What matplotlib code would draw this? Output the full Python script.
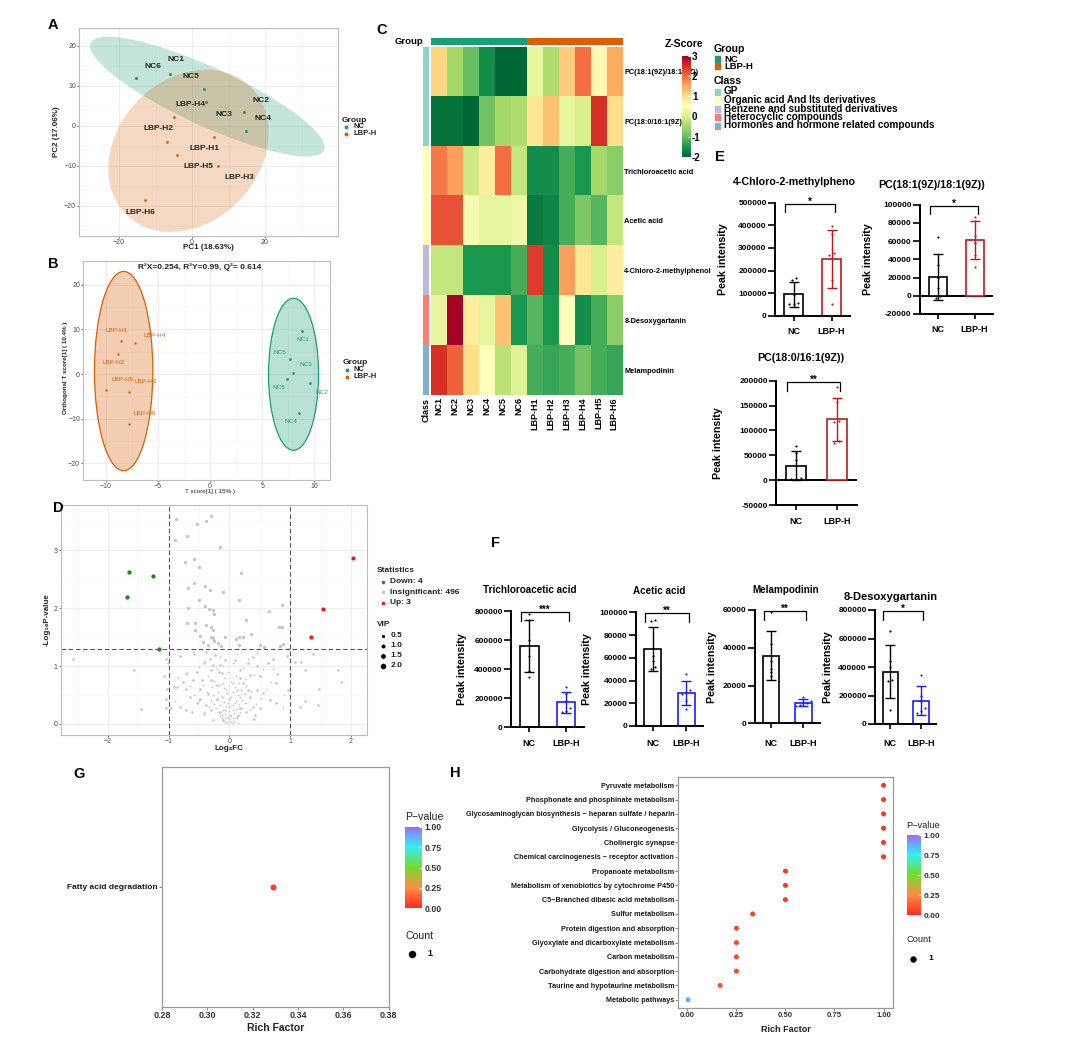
import numpy as np
import matplotlib
matplotlib.use('Agg')
import matplotlib.pyplot as plt
from matplotlib.patches import Ellipse, Rectangle
from matplotlib.colors import LinearSegmentedColormap, Normalize
from matplotlib.cm import ScalarMappable

plt.rcParams['font.family'] = ['Liberation Sans', 'DejaVu Sans']
plt.rcParams['axes.unicode_minus'] = True

# ======================= DATA =======================
group_names = ['NC', 'LBP-H']

# ---- A: PCA scores ----
pcaA_nc_labels = ['NC6', 'NC1', 'NC5', 'NC3', 'NC2', 'NC4']
pcaA_nc_x = [-15.4, -6.1, 3.3, 3.9, 14.2, 14.7]
pcaA_nc_y = [11.9, 13.0, 9.25, 6.1, 3.4, -1.2]
pcaA_lbp_labels = ['LBP-H4', 'LBP-H2', 'LBP-H1', 'LBP-H5', 'LBP-H3', 'LBP-H6']
pcaA_lbp_x = [-5.0, -6.9, 5.9, -4.0, 7.1, -12.9]
pcaA_lbp_y = [2.2, -3.9, -2.75, -7.2, -10.0, -18.6]
# confidence ellipses: centre x, centre y, semi-axis a, semi-axis b, angle (deg)
ellA_nc = [4.2, 7.35, 34.7, 7.4, -22.6]
ellA_lbp = [-1.0, -6.2, 23.5, 18.5, 35.0]

# ---- B: OPLS-DA scores ----
oplsB_nc_labels = ['NC1', 'NC5', 'NC3', 'NC6', 'NC2', 'NC4']
oplsB_nc_x = [8.78, 7.69, 7.92, 7.34, 9.55, 8.56]
oplsB_nc_y = [9.67, 3.27, 0.15, -1.1, -1.93, -8.8]
oplsB_lbp_labels = ['LBP-H1', 'LBP-H4', 'LBP-H2', 'LBP-H5', 'LBP-H3', 'LBP-H6']
oplsB_lbp_x = [-8.53, -7.24, -8.88, -9.97, -7.76, -7.79]
oplsB_lbp_y = [7.37, 7.0, 4.46, -3.64, -4.0, -11.2]
ellB_nc = [8.0, -0.05, 2.4, 17.0, 0.0]
ellB_lbp = [-8.3, 0.67, 2.8, 22.3, 0.0]
oplsB_stats = 'R\u00b2X=0.254, R\u00b2Y=0.99, Q\u00b2= 0.614'

# ---- C: heatmap (z-scores) ----
heat_samples = ['NC1', 'NC2', 'NC3', 'NC4', 'NC5', 'NC6',
                'LBP-H1', 'LBP-H2', 'LBP-H3', 'LBP-H4', 'LBP-H5', 'LBP-H6']
heat_metabolites = ['PC(18:1(9Z)/18:1(9Z))', 'PC(18:0/16:1(9Z))', 'Trichloroacetic acid',
                    'Acetic acid', '4-Chloro-2-methylphenol', '8-Desoxygartanin', 'Melampodinin']
heat_z = [
    [1.1, -0.5, -1.0, -1.6, -2.0, -2.0, 0.2, -0.4, 1.2, 2.0, 0.6, 1.5],
    [-1.9, -1.9, -2.0, -0.9, -0.5, -0.4, 0.9, 1.3, 0.2, 0.0, 2.5, 1.0],
    [1.9, 1.6, -0.1, 0.8, 2.0, -0.2, -1.6, -1.6, -1.2, -1.5, -0.5, -0.7],
    [2.2, 2.2, 0.4, 0.2, 0.2, 0.3, -1.8, -1.7, -1.2, -0.8, -1.1, -0.2],
    [-0.2, -0.2, -1.5, -1.5, -1.5, -1.2, 2.4, -1.6, 1.6, 0.9, 0.0, 0.8],
    [0.2, 3.0, 0.8, 0.2, 1.3, -1.5, -1.1, -1.5, 0.5, -1.6, -1.2, -0.7],
    [2.5, 2.1, 1.0, 0.5, -0.3, 0.1, -1.2, -1.3, -1.2, -0.9, -1.2, -1.3],
]
class_names = ['GP', 'Organic acid And Its derivatives', 'Benzene and substituted derivatives',
               'Heterocyclic compounds', 'Hormones and hormone related compounds']
heat_row_class = [0, 0, 1, 1, 2, 3, 4]

# ---- D: volcano ----
vol_down = [(-1.65, 2.63), (-1.26, 2.55), (-1.68, 2.19), (-1.16, 1.30)]
vol_up = [(2.04, 2.87), (1.54, 1.99), (1.34, 1.51)]
vol_counts = {'Down': 4, 'Insignificant': 496, 'Up': 3}
# insignificant metabolites grouped by VIP class
vol_ns_vip15 = [(-0.88, 3.53), (-0.38, 3.51), (-0.53, 3.45), (-0.31, 3.59), (-0.70, 3.25), (-0.90, 3.18),
    (-0.15, 3.06), (-0.74, 2.80), (-0.58, 2.84), (-0.51, 2.71), (0.19, 2.60), (-0.58, 2.43), (-0.68, 2.34),
    (-0.40, 2.39), (-0.32, 2.31), (-0.10, 2.28), (-0.50, 2.14), (0.15, 2.14), (-0.34, 1.99), (-0.27, 1.97),
    (-0.40, 2.03), (-0.69, 2.01), (-0.26, 1.90), (0.65, 1.95), (0.87, 2.06), (0.28, 1.79), (-0.70, 1.75),
    (-0.57, 1.75), (-0.38, 1.71), (0.82, 1.67), (0.86, 1.68), (-0.57, 1.62), (-0.31, 1.67), (-0.27, 1.62),
    (-0.48, 1.52), (0.35, 1.55), (-0.08, 1.51), (-0.31, 1.51), (-0.27, 1.49), (0.16, 1.51), (0.23, 1.51),
    (0.10, 1.46), (0.16, 1.37), (-0.36, 1.37), (-0.19, 1.39), (0.50, 1.37), (0.57, 1.33), (0.83, 1.34),
    (0.88, 1.38), (-0.26, 1.44), (-0.43, 1.41), (-0.14, 1.34)]
vol_ns_vip10 = [(-2.58, 1.12), (-1.58, 0.93), (-1.46, 0.26), (-1.04, 1.12), (-1.08, 0.82), (-1.03, 0.60),
    (-1.04, 0.43), (-1.04, 0.27), (-0.82, 1.17), (-0.58, 1.20), (-0.38, 1.25), (-0.32, 1.13), (-0.24, 1.19),
    (-0.42, 1.05), (-0.27, 1.02), (-0.30, 0.93), (-0.71, 0.86), (-0.54, 0.89), (-0.18, 0.89), (-0.12, 0.88),
    (-0.76, 0.73), (-0.60, 0.76), (-0.45, 0.76), (-0.30, 0.76), (-0.91, 0.64), (-0.86, 0.64), (-0.71, 0.60),
    (-0.49, 0.60), (-0.21, 0.67), (-0.65, 0.47), (-0.49, 0.44), (-0.35, 0.52), (-0.21, 0.44), (-0.54, 0.36),
    (-0.38, 0.33), (-0.82, 0.30), (-0.96, 0.27), (-0.71, 0.24), (-0.30, 0.24), (-0.16, 0.21), (-0.42, 0.17),
    (-0.62, 0.21), (0.42, 0.16), (0.50, 0.27), (0.28, 0.20), (0.17, 0.27), (0.12, 0.13), (-0.10, 0.07),
    (0.34, 0.47), (0.39, 0.30), (0.23, 0.70), (0.31, 0.59), (0.45, 0.59), (0.55, 0.53), (0.66, 0.41),
    (0.77, 0.36), (0.76, 0.71), (0.79, 0.87), (0.64, 1.05), (0.45, 1.00), (0.39, 1.16), (0.31, 1.05),
    (0.17, 0.93), (0.09, 1.10), (-0.08, 1.10), (-0.16, 1.02), (0.50, 0.82), (0.34, 0.84), (0.17, 0.80),
    (0.72, 1.13), (0.94, 1.18), (0.97, 1.29), (1.08, 1.07), (1.17, 1.07), (1.24, 0.93), (1.25, 0.40),
    (1.16, 0.30), (1.48, 0.60), (1.45, 0.33), (1.38, 1.21), (1.78, 0.93), (1.83, 0.73), (0.97, 0.59),
    (1.00, 0.87), (-1.01, 1.05), (0.40, 0.09), (-0.27, 0.07)]
vol_ns_vip05 = [(-0.05, 0.02), (0.05, 0.02), (-0.08, 0.05), (0.08, 0.05), (0.0, 0.08), (-0.12, 0.10),
    (0.12, 0.10), (-0.03, 0.12), (0.03, 0.13), (-0.15, 0.14), (0.15, 0.15), (-0.07, 0.18), (0.07, 0.19),
    (-0.18, 0.20), (0.18, 0.21), (-0.01, 0.22), (-0.11, 0.25), (0.11, 0.26), (-0.22, 0.27), (0.21, 0.28),
    (0.0, 0.30), (-0.06, 0.31), (0.06, 0.32), (-0.15, 0.33), (0.15, 0.34), (-0.25, 0.35), (0.27, 0.37),
    (-0.09, 0.38), (0.10, 0.40), (-0.20, 0.41), (0.20, 0.42), (-0.31, 0.42), (0.0, 0.44), (-0.14, 0.48),
    (0.14, 0.50), (-0.27, 0.50), (0.26, 0.52), (-0.04, 0.53), (0.05, 0.55), (-0.19, 0.56), (0.19, 0.58),
    (-0.37, 0.55), (0.36, 0.57), (-0.09, 0.62), (0.09, 0.64), (-0.28, 0.63), (0.28, 0.66), (-0.15, 0.68),
    (0.16, 0.70), (-0.44, 0.68), (0.02, 0.72), (-0.25, 0.75), (0.25, 0.77), (-0.08, 0.80), (0.10, 0.82),
    (-0.35, 0.82), (0.40, 0.85), (-0.02, 0.90), (-0.20, 0.95), (0.22, 0.97), (-0.50, 0.98), (0.55, 0.95),
    (-0.10, 1.00), (0.05, 1.05), (-0.40, 1.08), (0.30, 1.12), (-0.15, 1.15), (0.12, 1.20), (-0.60, 1.25),
    (0.45, 1.22), (-0.33, 0.30), (0.33, 0.25), (-0.40, 0.20), (0.44, 0.35), (-0.50, 0.40), (0.52, 0.45),
    (-0.58, 0.50), (0.60, 0.60), (-0.65, 0.65), (0.68, 0.72), (-0.70, 0.90), (0.72, 0.95), (-0.90, 0.40),
    (0.90, 0.50), (-0.85, 0.80), (0.88, 0.30), (-0.02, 0.04), (0.03, 0.03), (-0.05, 0.10), (0.06, 0.10),
    (-0.13, 0.16), (0.01, 0.16), (-0.08, 0.24), (0.06, 0.24), (-0.02, 0.36), (0.09, 0.36), (-0.10, 0.47),
    (0.03, 0.47), (-0.05, 0.59), (0.12, 0.59), (0.17, 0.47), (0.25, 0.36), (-0.10, 0.70), (0.06, 0.70),
    (0.14, 0.01)]
vip_levels = [0.5, 1.0, 1.5, 2.0]

# ---- E / F: peak intensity per sample (NC, LBP-H) ----
E_titles = ['4-Chloro-2-methylpheno', 'PC(18:1(9Z)/18:1(9Z))', 'PC(18:0/16:1(9Z))']
E_nc = [[160000, 165000, 90000, 50000, 55000, 50000],
        [65000, 34000, 20000, 8000, 0, -2000],
        [68000, 55000, 40000, 5000, 3000, 3000]]
E_lbp = [[396000, 360000, 276000, 268000, 158000, 50000],
         [86000, 82000, 66000, 58000, 45000, 32000],
         [187000, 158000, 118000, 116000, 78000, 75000]]
E_stars = ['*', '*', '**']
E_ticks = [[0, 100000, 200000, 300000, 400000, 500000],
           [-20000, 0, 20000, 40000, 60000, 80000, 100000],
           [-50000, 0, 50000, 100000, 150000, 200000]]

F_titles = ['Trichloroacetic acid', 'Acetic acid', 'Melampodinin', '8-Desoxygartanin']
F_nc = [[780000, 735000, 600000, 490000, 390000, 345000],
        [93000, 92000, 62000, 57000, 52000, 50000],
        [59000, 42000, 33000, 29000, 27000, 25000],
        [655000, 440000, 400000, 310000, 300000, 95000]]
F_lbp = [[280000, 230000, 180000, 130000, 110000, 105000],
         [46000, 32000, 30000, 28000, 22000, 15000],
         [14000, 12000, 11000, 10500, 9500, 9000],
         [345000, 200000, 160000, 110000, 90000, 75000]]
F_stars = ['***', '**', '**', '*']
F_ticks = [[0, 200000, 400000, 600000, 800000],
           [0, 20000, 40000, 60000, 80000, 100000],
           [0, 20000, 40000, 60000],
           [0, 200000, 400000, 600000, 800000]]

# ---- G / H: KEGG enrichment ----
G_pathways = ['Fatty acid degradation']
G_rich = [0.329]
G_p = [0.05]
H_pathways = ['Pyruvate metabolism', 'Phosphonate and phosphinate metabolism',
              'Glycosaminoglycan biosynthesis \u2212 heparan sulfate / heparin',
              'Glycolysis / Gluconeogenesis', 'Cholinergic synapse',
              'Chemical carcinogenesis \u2212 receptor activation', 'Propanoate metabolism',
              'Metabolism of xenobiotics by cytochrome P450', 'C5\u2212Branched dibasic acid metabolism',
              'Sulfur metabolism', 'Protein digestion and absorption',
              'Glyoxylate and dicarboxylate metabolism', 'Carbon metabolism',
              'Carbohydrate digestion and absorption', 'Taurine and hypotaurine metabolism',
              'Metabolic pathways']
H_rich = [1.0, 1.0, 1.0, 1.0, 1.0, 1.0, 0.5, 0.5, 0.5, 0.333, 0.25, 0.25, 0.25, 0.25, 0.167, 0.0035]
H_p = [0.02, 0.02, 0.02, 0.02, 0.02, 0.02, 0.03, 0.03, 0.03, 0.05, 0.07, 0.07, 0.07, 0.07, 0.09, 0.88]

# ======================= STYLE / LAYOUT =======================
NC_COL = '#1b9e77'
LBP_COL = '#d95f02'
CLASS_COLS = ['#8dd3c7', '#ffffb3', '#bebada', '#fb8072', '#80b1d3']
W, H = 1080, 1040
fig = plt.figure(figsize=(W / 100, H / 100), dpi=100)
fig.patch.set_facecolor('white')


def px_axes(l, t, r, b):
    return fig.add_axes([l / W, 1 - b / H, (r - l) / W, (b - t) / H])


def ftext(x, y, s, **kw):
    return fig.text(x / W, 1 - y / H, s, **kw)


def gg_theme(ax, xt, yt, xminor=(), yminor=(), grid=True, border='#bdbdbd'):
    ax.set_facecolor('white')
    for s in ax.spines.values():
        s.set_color(border)
        s.set_linewidth(0.8)
    ax.set_xticks(xt)
    ax.set_yticks(yt)
    if grid:
        ax.set_xticks(list(xminor), minor=True)
        ax.set_yticks(list(yminor), minor=True)
        ax.grid(True, which='major', color='#ebebeb', lw=0.6)
        ax.grid(True, which='minor', color='#f5f5f5', lw=0.4)
    ax.set_axisbelow(True)
    ax.tick_params(which='major', length=1.5, width=0.5, color='#444444', labelsize=5,
                   labelcolor='#4d4d4d', pad=0.6)
    ax.tick_params(which='minor', length=0)


def ellipse(ax, e, fc, ec, alpha, lw=0):
    cx, cy, a, b, ang = e
    ax.add_patch(Ellipse((cx, cy), 2 * a, 2 * b, angle=ang, facecolor=fc, alpha=alpha,
                         edgecolor='none', zorder=1))
    if lw > 0:
        ax.add_patch(Ellipse((cx, cy), 2 * a, 2 * b, angle=ang, facecolor='none',
                             edgecolor=ec, lw=lw, zorder=1.5))


def group_legend(x, y, dy):
    ftext(x, y, 'Group', fontsize=6, fontweight='bold', va='center', color='#222222')
    for i, (n, c) in enumerate(zip(group_names, [NC_COL, LBP_COL])):
        fig.add_artist(plt.Line2D([(x + 4) / W], [1 - (y + dy * (i + 1)) / H], marker='o', ms=1.8,
                                  color=c, lw=0, transform=fig.transFigure))
        ftext(x + 11, y + dy * (i + 1), n, fontsize=5.5, fontweight='bold', va='center', color='#222222')


# ---------------- Panel A ----------------
axA = px_axes(79, 28, 338, 236)
axA.set_xlim(-31, 40)
axA.set_ylim(-27.5, 24.5)
gg_theme(axA, [-20, 0, 20], [-20, -10, 0, 10, 20], [-30, -10, 10, 30], [-25, -15, -5, 5, 15])
ellipse(axA, ellA_nc, NC_COL, NC_COL, 0.26)
ellipse(axA, ellA_lbp, LBP_COL, LBP_COL, 0.24)
axA.scatter(pcaA_nc_x, pcaA_nc_y, s=5, color=NC_COL, zorder=3, lw=0)
axA.scatter(pcaA_lbp_x, pcaA_lbp_y, s=4, color=LBP_COL, zorder=3, lw=0)
offA_nc = [(12.3, 8.9), (4.7, 10.1), (-9.7, 8.8), (12.4, -9.2), (12.1, 8.9), (12.1, 8.9)]
offA_lbp = [(12.1, 9.5), (-6.3, 9.5), (-6.3, -8.2), (15.0, -8.1), (15.2, -8.4), (-3.4, -8.6)]
for xs, ys, labs, offs in [(pcaA_nc_x, pcaA_nc_y, pcaA_nc_labels, offA_nc),
                           (pcaA_lbp_x, pcaA_lbp_y, pcaA_lbp_labels, offA_lbp)]:
    for x, y, l, o in zip(xs, ys, labs, offs):
        axA.annotate(l, (x, y), xytext=o, textcoords='offset points', ha='center', va='center',
                     fontsize=6, fontweight='bold', color='#262626', zorder=4)
ftext(208, 247.5, 'PC1 (18.63%)', fontsize=5.8, fontweight='bold', ha='center', va='center', color='#222222')
ftext(56, 132, 'PC2 (17.06%)', fontsize=5.8, fontweight='bold', ha='center', va='center', rotation=90,
      color='#222222')
group_legend(342, 120, 6.9)

# ---------------- Panel B ----------------
axB = px_axes(83, 261, 330, 480)
axB.set_xlim(-12.2, 11.5)
axB.set_ylim(-23.7, 25.3)
gg_theme(axB, [-10, -5, 0, 5, 10], [-20, -10, 0, 10, 20], [-7.5, -2.5, 2.5, 7.5], [-15, -5, 5, 15])
ellipse(axB, ellB_lbp, LBP_COL, LBP_COL, 0.3, lw=0.9)
ellipse(axB, ellB_nc, NC_COL, NC_COL, 0.3, lw=0.9)
axB.scatter(oplsB_nc_x, oplsB_nc_y, s=4, color=NC_COL, zorder=3, lw=0)
axB.scatter(oplsB_lbp_x, oplsB_lbp_y, s=3, color=LBP_COL, zorder=3, lw=0)
offB_nc = [(0.9, -6.5), (-7.2, 5.0), (9.6, 6.6), (-5.5, -6.3), (8.6, -6.7), (-6.0, -6.1)]
offB_lbp = [(-3.3, 7.8), (14.2, 5.2), (-3.2, -5.7), (11.5, 7.9), (12.0, 7.8), (11.5, 7.4)]
for xs, ys, labs, offs, c in [(oplsB_nc_x, oplsB_nc_y, oplsB_nc_labels, offB_nc, NC_COL),
                              (oplsB_lbp_x, oplsB_lbp_y, oplsB_lbp_labels, offB_lbp, LBP_COL)]:
    for x, y, l, o in zip(xs, ys, labs, offs):
        axB.annotate(l, (x, y), xytext=o, textcoords='offset points', ha='center', va='center',
                     fontsize=4.6, color=c, zorder=4)
ftext(200, 267, oplsB_stats, fontsize=6, fontweight='bold', ha='center', va='center', color='#222222')
ftext(210, 492, 'T score[1] ( 15% )', fontsize=4.5, ha='center', va='center', color='#222222')
ftext(65, 368, 'Orthogonal T score[1] ( 10.4% )', fontsize=4.5, fontweight='bold', ha='center',
      va='center', rotation=90, color='#222222')
group_legend(343, 362, 7.5)

# ---------------- Panel C ----------------
hz = np.array(heat_z)
axC = px_axes(431, 46.7, 622.3, 395)
axC.imshow(hz, cmap='RdYlGn_r', vmin=-2, vmax=3, aspect='auto', interpolation='nearest')
axC.set_xticks(range(len(heat_samples)))
axC.set_xticklabels(heat_samples, rotation=90, fontsize=6.5, fontweight='bold')
axC.yaxis.tick_right()
axC.set_yticks(range(len(heat_metabolites)))
axC.set_yticklabels(heat_metabolites, fontsize=5.3, fontweight='bold')
axC.tick_params(length=0, pad=1.5)
for s in axC.spines.values():
    s.set_visible(False)
# group annotation bar
axG = px_axes(431, 38.3, 622.3, 45)
grp_idx = np.array([[0 if s.startswith('NC') else 1 for s in heat_samples]])
axG.imshow(grp_idx, cmap=LinearSegmentedColormap.from_list('g', [NC_COL, LBP_COL], N=2),
           aspect='auto', interpolation='nearest')
axG.set_axis_off()
# class annotation bar
axK = px_axes(423.3, 46.7, 429.3, 395)
axK.imshow(np.array(heat_row_class)[:, None],
           cmap=LinearSegmentedColormap.from_list('k', CLASS_COLS, N=5), vmin=0, vmax=4,
           aspect='auto', interpolation='nearest')
axK.set_axis_off()
ftext(423, 41.7, 'Group', fontsize=6.8, fontweight='bold', ha='right', va='center')
ftext(426.5, 398, 'Class', fontsize=6.5, fontweight='bold', ha='center', va='top', rotation=90)
# colour bar (drawn over the first row label, as in the source figure)
axCB = px_axes(681.7, 56, 690.7, 156.7)
cb = fig.colorbar(ScalarMappable(Normalize(-2, 3), 'RdYlGn_r'), cax=axCB)
cb.outline.set_visible(False)
cb.set_ticks([-2, -1, 0, 1, 2, 3])
cb.set_ticklabels(['-2', '-1', '0', '1', '2', '3'])
axCB.tick_params(labelsize=7, length=2, color='white', direction='in', pad=1)
for t in axCB.get_yticklabels():
    t.set_fontweight('bold')
ftext(684, 44, 'Z-Score', fontsize=7.6, fontweight='bold', ha='center', va='center')
# annotation legend
ftext(714, 48.5, 'Group', fontsize=7.6, fontweight='bold', va='center')
for i, (n, c) in enumerate(zip(group_names, [NC_COL, LBP_COL])):
    yy = 59.2 + 7.2 * i
    fig.add_artist(Rectangle(((715) / W, 1 - (yy + 3.0) / H), 5 / W, 6 / H, color=c,
                             transform=fig.transFigure))
    ftext(724, yy, n, fontsize=6.8, fontweight='bold', va='center')
ftext(714, 81.5, 'Class', fontsize=7.6, fontweight='bold', va='center')
for i, (n, c) in enumerate(zip(class_names, CLASS_COLS)):
    yy = 91.5 + 8.5 * i
    fig.add_artist(Rectangle(((715) / W, 1 - (yy + 3.0) / H), 5 / W, 6 / H, color=c,
                             transform=fig.transFigure))
    ftext(724, yy, n, fontsize=7.2, fontweight='bold', va='center')

# ---------------- Panel D ----------------
axD = px_axes(60.7, 505, 367.3, 735)
axD.set_xlim(-2.78, 2.27)
axD.set_ylim(-0.19, 3.78)
gg_theme(axD, [-2, -1, 0, 1, 2], [0, 1, 2, 3], [-2.5, -1.5, -0.5, 0.5, 1.5], [0.5, 1.5, 2.5, 3.5])


def vip_size(v):
    return (0.7 + 1.15 * v) ** 2


for pts, v in [(vol_ns_vip05, 0.5), (vol_ns_vip10, 1.0), (vol_ns_vip15, 1.5)]:
    a = np.array(pts)
    axD.scatter(a[:, 0], a[:, 1], s=vip_size(v), color='#c6c6c6', lw=0, zorder=2)
a = np.array(vol_down)
axD.scatter(a[:, 0], a[:, 1], s=vip_size(2.1), color='#1e8a1e', lw=0, zorder=3)
a = np.array(vol_up)
axD.scatter(a[:, 0], a[:, 1], s=vip_size(2.0), color='#e41a1c', lw=0, zorder=3)
for xv in (-1, 1):
    axD.axvline(xv, color='#555555', ls=(0, (4, 2.5)), lw=0.8, zorder=2.5)
axD.axhline(-np.log10(0.05), color='#555555', ls=(0, (4, 2.5)), lw=0.8, zorder=2.5)
ftext(229, 748, 'Log\u2082FC', fontsize=5.8, fontweight='bold', ha='center', va='center', color='#222222')
ftext(47, 620, '-Log\u2081\u2080P-value', fontsize=5.8, fontweight='bold', ha='center', va='center',
      rotation=90, color='#222222')
ftext(377, 571, 'Statistics', fontsize=6, fontweight='bold', va='center', color='#222222')
for i, (k, c) in enumerate(zip(['Down', 'Insignificant', 'Up'], ['#1e8a1e', '#c6c6c6', '#e41a1c'])):
    yy = 581.7 + 10.5 * i
    fig.add_artist(plt.Line2D([382.7 / W], [1 - yy / H], marker='o', ms=1.6, color=c, lw=0,
                              transform=fig.transFigure))
    ftext(390.5, yy, f'{k}: {vol_counts[k]}', fontsize=6, fontweight='bold', va='center',
          color='#222222')
ftext(377, 624.3, 'VIP', fontsize=6, fontweight='bold', va='center', color='#222222')
for i, v in enumerate(vip_levels):
    yy = 635.7 + 10 * i
    fig.add_artist(plt.Line2D([382.7 / W], [1 - yy / H], marker='o', ms=np.sqrt(vip_size(v)),
                              color='black', lw=0, transform=fig.transFigure))
    ftext(390.5, yy, f'{v:.1f}', fontsize=6, fontweight='bold', va='center', color='#222222')


# ---------------- Panels E / F (bar charts) ----------------
def swarm_x(vals, center, span):
    vals = np.asarray(vals, float)
    xs = np.full(len(vals), float(center))
    order = np.argsort(vals)
    tol = 0.03 * span
    clusters, cur = [], [order[0]]
    for i in order[1:]:
        if abs(vals[i] - vals[cur[-1]]) < tol:
            cur.append(i)
        else:
            clusters.append(cur)
            cur = [i]
    clusters.append(cur)
    for cl in clusters:
        n = len(cl)
        for k, i in enumerate(cl):
            xs[i] = center + (k - (n - 1) / 2) * 0.12
    return xs


def prism(l, t, r, b, title, tpos, tsize, ylab_x, nc, lbp, ticks, col, stars, lab_y, fs=1.0):
    ax = px_axes(l, t, r, b)
    ax.set_xlim(-0.5, 1.5)
    lo, hi = ticks[0], ticks[-1]
    span = hi - lo
    ax.set_ylim(lo, hi)
    for side in ('top', 'right'):
        ax.spines[side].set_visible(False)
    for side in ('left', 'bottom'):
        ax.spines[side].set_linewidth(1.4)
    ax.set_yticks(ticks)
    ax.set_yticklabels([f'{v:d}' for v in ticks], fontsize=6 * fs, fontweight='bold')
    ax.set_xticks([0, 1])
    ax.set_xticklabels([])
    ax.tick_params(axis='y', length=5, width=1.2, pad=1)
    ax.tick_params(axis='x', length=3.5, width=1.2)
    if lo < 0:
        ax.axhline(0, color='black', lw=1.4, zorder=1)
    for i, (vals, c) in enumerate([(nc, 'black'), (lbp, col)]):
        v = np.asarray(vals, float)
        m, sd = v.mean(), v.std(ddof=1)
        ax.bar([i], [m], width=0.5, facecolor='white', edgecolor=c, lw=1.2, zorder=2)
        ax.errorbar([i], [m], yerr=[sd], fmt='none', ecolor=c, elinewidth=1.0, capsize=3.4,
                    capthick=1.0, zorder=3)
        ax.scatter(swarm_x(v, i, span), v, s=2.4, color=c, zorder=4, lw=0)
    yb = hi - 0.01 * span
    d = 0.075 * span
    x0, x1 = -0.23, 1.08
    ax.plot([x0, x0, x1, x1], [yb - d, yb, yb, yb - d], color='black', lw=0.9, clip_on=False)
    ax.annotate(stars, ((x0 + x1) / 2, yb), xytext=(0, -0.6), textcoords='offset points',
                ha='center', va='baseline', fontsize=7, fontweight='bold', annotation_clip=False)
    ftext(tpos[0], tpos[1], title, fontsize=tsize, fontweight='bold', ha='center', va='center')
    ftext(ylab_x, (t + b) / 2, 'Peak intensity', fontsize=7.7 * fs, fontweight='bold', ha='center',
          va='center', rotation=90)
    px0 = l + (r - l) * 0.25
    px1 = l + (r - l) * 0.75
    for pxx, n in zip([px0, px1], group_names):
        ftext(pxx, lab_y, n, fontsize=6.5 * fs, fontweight='bold', ha='center', va='center')
    return ax


RED = '#c0161c'
BLUE = '#1a1aff'
prism(775, 202.7, 850.4, 315.7, E_titles[0], (794.5, 182.3), 7.7, 722.7, E_nc[0], E_lbp[0], E_ticks[0],
      RED, E_stars[0], 331.7)
prism(920, 204.7, 992.8, 314, E_titles[1], (932, 185), 7.7, 868.3, E_nc[1], E_lbp[1], E_ticks[1], RED,
      E_stars[1], 330)
prism(776, 380.7, 857.2, 505, E_titles[2], (801, 358.3), 7.7, 718.3, E_nc[2], E_lbp[2], E_ticks[2], RED,
      E_stars[2], 521)
prism(511, 611, 584.4, 727.3, F_titles[0], (529.3, 590), 7.1, 461.7, F_nc[0], F_lbp[0], F_ticks[0], BLUE,
      F_stars[0], 743.3)
prism(636, 612.3, 703.2, 726, F_titles[1], (659.3, 591), 7.1, 586.7, F_nc[1], F_lbp[1], F_ticks[1], BLUE,
      F_stars[1], 743.3)
prism(755, 610, 819.6, 723.3, F_titles[2], (786, 590), 7.1, 711.7, F_nc[2], F_lbp[2], F_ticks[2], BLUE,
      F_stars[2], 743.3)
prism(875, 610, 936.2, 724, F_titles[3], (891, 596.5), 8.0, 828.3, F_nc[3], F_lbp[3], F_ticks[3], BLUE,
      F_stars[3], 743.3)

# ---------------- Panels G / H (enrichment bubbles) ----------------
pcmap = LinearSegmentedColormap.from_list('pv', [(0.0, '#ff2a22'), (0.25, '#ff8c44'), (0.5, '#72dc2a'),
                                                 (0.75, '#33eeee'), (0.9, '#70a2ff'), (1.0, '#a866f0')])


def enrich(box, cats, rich, pv, xlim, xticks, cb_box, cb_title, count_pos, ms, sc):
    ax = px_axes(*box)
    n = len(cats)
    ypos = np.arange(n)[::-1] + 1
    ax.scatter(rich, ypos, s=ms, c=pv, cmap=pcmap, vmin=0, vmax=1, lw=0, zorder=3)
    ax.set_xlim(*xlim)
    ax.set_ylim(0.4, n + 0.6)
    ax.set_yticks(ypos)
    ax.set_yticklabels(cats, fontsize=sc['ylab'], fontweight='bold', color='#1a1a1a')
    ax.set_xticks(xticks)
    ax.set_xticklabels([f'{v:.2f}' for v in xticks], fontsize=sc['xtick'], fontweight='bold',
                       color='#333333')
    for s in ax.spines.values():
        s.set_color('#9a9a9a')
        s.set_linewidth(0.9)
    ax.tick_params(length=2, width=0.5, color='#555555', pad=1)
    cx = (box[0] + box[2]) / 2
    ftext(cx, box[3] + 21, 'Rich Factor', fontsize=sc['xlab'], fontweight='bold', ha='center',
          va='center', color='#222222')
    cax = px_axes(*cb_box)
    cbar = fig.colorbar(ScalarMappable(Normalize(0, 1), pcmap), cax=cax)
    cbar.outline.set_visible(False)
    cbar.set_ticks([0, 0.25, 0.5, 0.75, 1.0])
    cbar.set_ticklabels(['0.00', '0.25', '0.50', '0.75', '1.00'])
    cax.tick_params(labelsize=sc['cb'], length=2.5, color='white', direction='in', pad=2)
    for tl in cax.get_yticklabels():
        tl.set_fontweight('bold')
        tl.set_color('#333333')
    ftext(cb_box[0], cb_title, 'P\u2212value', fontsize=sc['leg'], va='center', color='#222222')
    ftext(cb_box[0], count_pos, 'Count', fontsize=sc['leg'], va='center', color='#222222')
    fig.add_artist(plt.Line2D([(cb_box[0] + 6.5) / W], [1 - (count_pos + 18.5) / H], marker='o',
                              ms=np.sqrt(ms), color='black', lw=0, transform=fig.transFigure))
    ftext(cb_box[0] + 22, count_pos + 18, '1', fontsize=sc['cb'], fontweight='bold', va='center')
    return ax


enrich((162, 766.7, 388.7, 1006.7), G_pathways, G_rich, G_p, (0.28, 0.38),
       [0.28, 0.30, 0.32, 0.34, 0.36, 0.38], (405, 826.7, 421.7, 908.3), 816.7, 935.7, 19,
       dict(ylab=6, xtick=6.5, xlab=7.5, cb=6.3, leg=7.6))
h_lo = min(H_rich) - 0.05 * (max(H_rich) - min(H_rich))
h_hi = max(H_rich) + 0.05 * (max(H_rich) - min(H_rich))
enrich((678.3, 776.7, 893.3, 1008.3), H_pathways, H_rich, H_p, (h_lo, h_hi),
       [0.0, 0.25, 0.5, 0.75, 1.0], (906.7, 835, 921, 915), 825, 940, 13,
       dict(ylab=5.2, xtick=5.6, xlab=6.5, cb=6, leg=6.7))

# ---------------- panel letters ----------------
for letter, (x, y) in {'A': (53, 25), 'B': (53, 264), 'C': (382, 30), 'D': (58, 508), 'E': (720, 157),
                       'F': (495, 543), 'G': (79, 774), 'H': (455, 773)}.items():
    ftext(x, y, letter, fontsize=10.5, fontweight='bold', ha='center', va='center')

fig.savefig('out.png', dpi=100, facecolor='white')
